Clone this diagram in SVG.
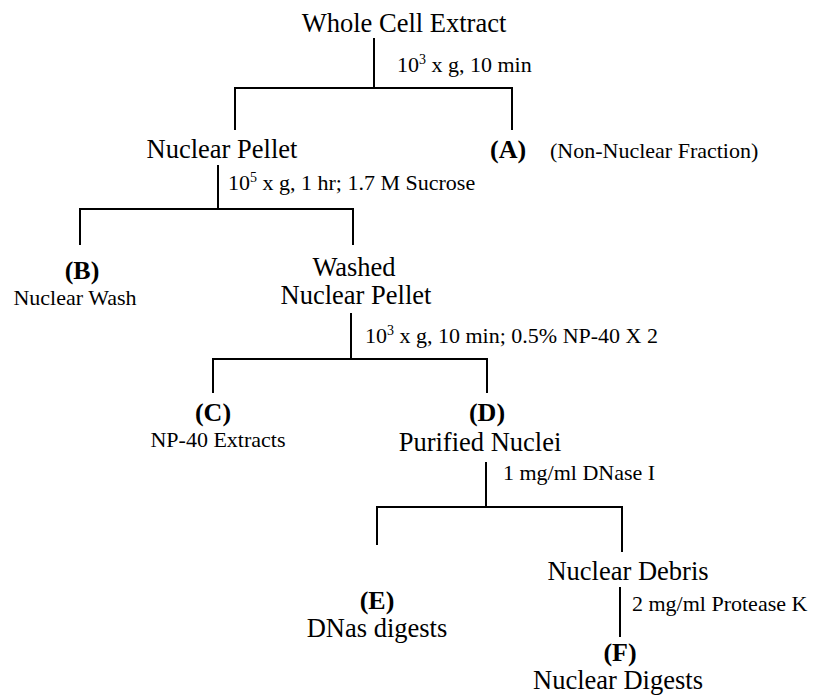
<svg xmlns="http://www.w3.org/2000/svg" width="813" height="698" viewBox="0 0 813 698">
<style>
text{font-family:"Liberation Serif","Times New Roman",serif;fill:#000}
.n{font-size:26.5px}
.s{font-size:22px}
.b{font-size:26px;font-weight:bold}
.c{text-anchor:middle}
.sup{font-size:14px}
#connectors path{fill:none;stroke:#000;stroke-width:2}
</style>
<rect width="813" height="698" fill="#fff"/>
<g id="connectors">
<path d="M374,38 V88 M235,130 V88 H512 V130"/>
<path d="M218,165 V209 M80,245 V209 H353 V245"/>
<path d="M351,313 V359 M213,393 V359 H487 V393"/>
<path d="M486,462 V507 M377,545 V507 H622 V552"/>
<path d="M620,587 V637"/>
</g>
<g id="labels">
<text class="s" x="397" y="72">10<tspan class="sup" dy="-8">3</tspan><tspan dy="8"> x g, 10 min</tspan></text>
<text class="s" x="228" y="190">10<tspan class="sup" dy="-8">5</tspan><tspan dy="8"> x g, 1 hr; 1.7 M Sucrose</tspan></text>
<text class="s" x="365" y="343">10<tspan class="sup" dy="-8">3</tspan><tspan dy="8"> x g, 10 min; 0.5% NP-40 X 2</tspan></text>
<text class="s" x="503" y="480">1 mg/ml DNase I</text>
<text class="s" x="632" y="611">2 mg/ml Protease K</text>
</g>
<g id="whole-cell-extract"><text class="n c" x="404" y="32">Whole Cell Extract</text></g>
<g id="nuclear-pellet"><text class="n c" x="222" y="158">Nuclear Pellet</text></g>
<g id="node-a"><text class="b" x="490" y="158">(A)</text><text class="s" x="550" y="158">(Non-Nuclear Fraction)</text></g>
<g id="node-b"><text class="b c" x="82" y="279">(B)</text><text class="s c" x="75" y="305">Nuclear Wash</text></g>
<g id="washed-nuclear-pellet"><text class="n c" x="354" y="276">Washed</text><text class="n c" x="356" y="304">Nuclear Pellet</text></g>
<g id="node-c"><text class="b c" x="213" y="421">(C)</text><text class="s c" x="218" y="447">NP-40 Extracts</text></g>
<g id="node-d"><text class="b c" x="487" y="421">(D)</text><text class="n c" x="480" y="451">Purified Nuclei</text></g>
<g id="node-e"><text class="b c" x="377" y="609">(E)</text><text class="n c" x="377" y="637">DNas digests</text></g>
<g id="nuclear-debris"><text class="n c" x="628" y="580">Nuclear Debris</text></g>
<g id="node-f"><text class="b c" x="620" y="661">(F)</text><text class="n c" x="618" y="689">Nuclear Digests</text></g>
</svg>
